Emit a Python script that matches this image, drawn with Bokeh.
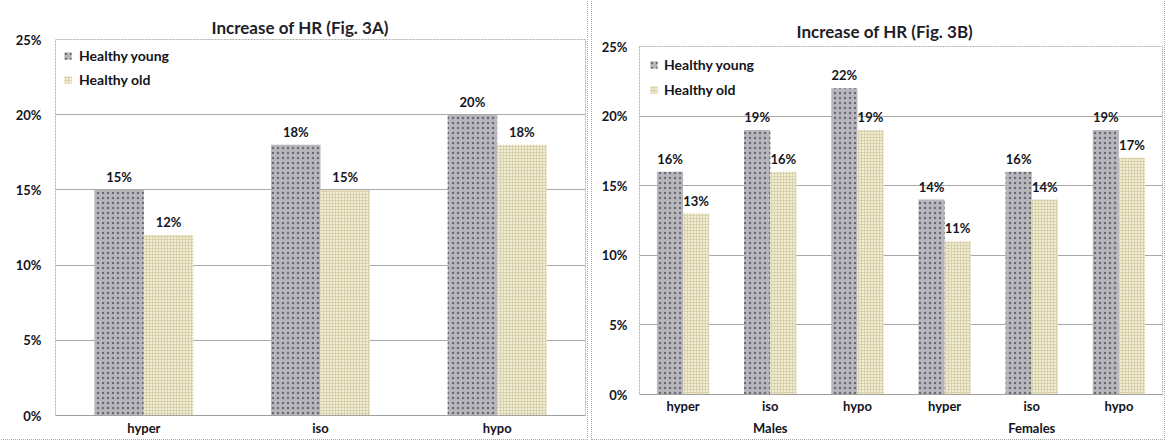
from bokeh.plotting import figure
from bokeh.models import FactorRange, NumeralTickFormatter, Range1d, ColumnDataSource, FixedTicker
from bokeh.transform import dodge
from bokeh.layouts import row, column
from bokeh.core.properties import value
from bokeh.embed import file_html
from bokeh.resources import INLINE

# ---- data ----
cats_a = ["hyper", "iso", "hypo"]
young_a = [0.15, 0.18, 0.20]
old_a = [0.12, 0.15, 0.18]

groups_b = ["Males", "Males", "Males", "Females", "Females", "Females"]
cats_b = ["hyper", "iso", "hypo", "hyper", "iso", "hypo"]
young_b = [0.16, 0.19, 0.22, 0.14, 0.16, 0.19]
old_b = [0.13, 0.16, 0.19, 0.11, 0.14, 0.17]

y_ticks = [0, 0.05, 0.10, 0.15, 0.20, 0.25]
title_a = "Increase of HR (Fig. 3A)"
title_b = "Increase of HR (Fig. 3B)"
series_names = ["Healthy young", "Healthy old"]

FONT = "Lato"
TXT = "#141420"
H = 439

young_style = dict(fill_color="#b6b6bc", line_color=None, hatch_pattern=".",
                   hatch_color="#6a6a72", hatch_scale=5, hatch_weight=2)
old_style = dict(fill_color="#f1edd6", line_color=None, hatch_pattern="+",
                 hatch_color="#d8d1aa", hatch_scale=3, hatch_weight=1)


def pct(v):
    return [f"{round(x * 100)}%" for x in v]


def style(p, title_offset, title_standoff):
    p.title.text_font = FONT
    p.title.text_font_size = "17px"
    p.title.text_font_style = "bold"
    p.title.text_color = "#1e1e28"
    p.title.align = "left"
    p.title.offset = title_offset
    p.title.standoff = title_standoff
    p.y_range = Range1d(0, 0.25)
    p.yaxis.ticker = FixedTicker(ticks=y_ticks)
    p.yaxis.formatter = NumeralTickFormatter(format="0%")
    for ax in (p.xaxis, p.yaxis):
        ax.major_label_text_font = FONT
        ax.major_label_text_font_size = "13px"
        ax.major_label_text_font_style = "bold"
        ax.major_label_text_color = TXT
        ax.major_tick_line_color = None
        ax.major_tick_out = 0
        ax.major_tick_in = 0
        ax.minor_tick_line_color = None
        ax.minor_tick_out = 0
    p.yaxis.axis_line_color = None
    p.xaxis.axis_line_color = "#a0a0a0"
    p.xgrid.grid_line_color = None
    p.ygrid.grid_line_color = "#a8a8a8"
    p.outline_line_color = "#b0b0b0"
    p.outline_line_dash = "2 1"
    p.legend.location = "top_left"
    p.legend.border_line_color = None
    p.legend.background_fill_alpha = 0
    p.legend.label_text_font = FONT
    p.legend.label_text_font_size = "14px"
    p.legend.label_text_font_style = "bold"
    p.legend.label_text_color = TXT
    p.legend.glyph_width = 9
    p.legend.glyph_height = 9
    p.legend.label_standoff = 7
    p.styles = {"outline": "1px dotted #a8a8a8"}


def labels(p, src, off):
    for col, lab, o in (("young", "ly", -off), ("old", "lo", off)):
        p.text(x=dodge("x", o, range=p.x_range), y=col, text=lab, source=src,
               text_align="center", text_baseline="bottom", y_offset=-5,
               text_font=value(FONT), text_font_size="13px", text_font_style="bold",
               text_color=TXT)


# ---- panel A ----
src_a = ColumnDataSource(dict(x=cats_a, young=young_a, old=old_a,
                              ly=pct(young_a), lo=pct(old_a)))
pa = figure(width=587, height=H, x_range=FactorRange(*cats_a, range_padding=0),
            title=title_a, output_backend="svg", toolbar_location=None,
            min_border_left=55, min_border_right=2, min_border_top=39, min_border_bottom=24)
pa.vbar(x=dodge("x", -0.14, range=pa.x_range), top="young", width=0.28, source=src_a,
        legend_label=series_names[0], **young_style)
pa.vbar(x=dodge("x", 0.14, range=pa.x_range), top="old", width=0.28, source=src_a,
        legend_label=series_names[1], **old_style)
labels(pa, src_a, 0.14)
style(pa, 156, 3)
pa.xaxis.major_label_standoff = 4
pa.yaxis.major_label_standoff = 14
pa.legend.margin = 8
pa.legend.padding = 9
pa.legend.label_height = 16
pa.legend.spacing = 7

# ---- panel B ----
factors_b = list(zip(groups_b, cats_b))
src_b = ColumnDataSource(dict(x=factors_b, young=young_b, old=old_b,
                              ly=pct(young_b), lo=pct(old_b)))
pb = figure(width=572, height=H,
            x_range=FactorRange(*factors_b, range_padding=0, group_padding=0, factor_padding=0),
            title=title_b, output_backend="svg", toolbar_location=None,
            min_border_left=47, min_border_right=2, min_border_top=46, min_border_bottom=45)
pb.vbar(x=dodge("x", -0.15, range=pb.x_range), top="young", width=0.3, source=src_b,
        legend_label=series_names[0], **young_style)
pb.vbar(x=dodge("x", 0.15, range=pb.x_range), top="old", width=0.3, source=src_b,
        legend_label=series_names[1], **old_style)
labels(pb, src_b, 0.15)
style(pb, 157, 10)
pb.xaxis.major_label_standoff = 3
pb.yaxis.major_label_standoff = 12
pb.xaxis.group_text_font = FONT
pb.xaxis.group_text_font_size = "13px"
pb.xaxis.group_text_font_style = "bold"
pb.xaxis.group_text_color = TXT
pb.xaxis.separator_line_alpha = 0
pb.legend.margin = 10
pb.legend.padding = 8
pb.legend.label_height = 16
pb.legend.spacing = 8
pb.legend.label_standoff = 6

layout = row(column(pa), column(pb), spacing=5)
open("out.html", "w").write(file_html(layout, INLINE))
